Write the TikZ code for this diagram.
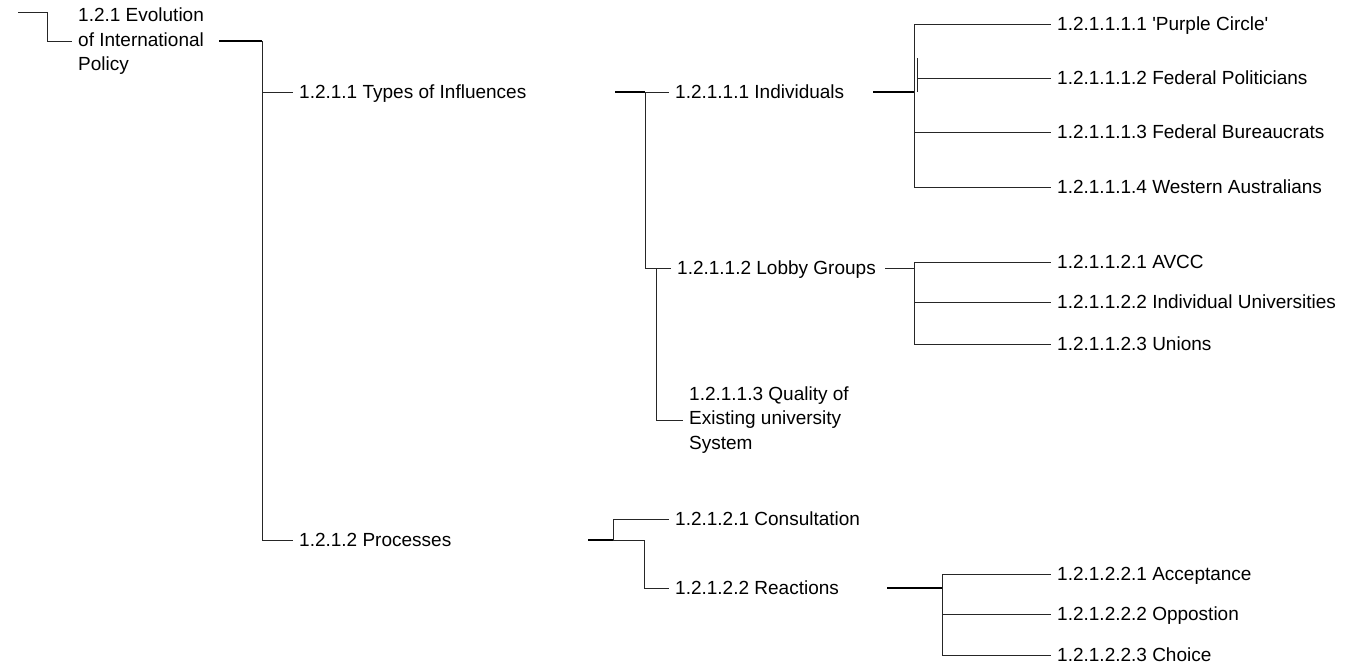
\documentclass[tikz,border=0pt]{standalone}
\usepackage{fontspec}
\setmainfont{Liberation Sans}
\tikzset{
  item/.style={anchor=west, inner xsep=6pt, inner ysep=0pt, text height=13.6pt, text depth=0pt,
    font=\fontsize{19}{24.5}\selectfont},
  multi/.style={anchor=west, inner xsep=6pt, inner ysep=0pt, align=left,
    font=\fontsize{19}{24.5}\selectfont},
  link/.style={line width=0.8pt, black!85},
  stub/.style={line width=1.6pt, black},
}
\begin{document}
\begin{tikzpicture}[x=1pt,y=-1pt]
\useasboundingbox (0,0) rectangle (1349,664);

% --- outline entries ---
\node[multi] (root) at (72,41.5) {1.2.1 Evolution\\of International\\Policy};
\node[item] (types) at (293,92) {1.2.1.1 Types of Influences};
\node[item] (proc) at (293,540) {1.2.1.2 Processes};

\node[item] (indiv) at (669,92) {1.2.1.1.1 Individuals};
\node[item] (lobby) at (671,268) {1.2.1.1.2 Lobby Groups};
\node[multi] (qual) at (683,420) {1.2.1.1.3 Quality of\\Existing university\\System};

\node[item] (i1) at (1051,24) {1.2.1.1.1.1 \textquotesingle Purple Circle\textquotesingle};
\node[item] (i2) at (1051,78) {1.2.1.1.1.2 Federal Politicians};
\node[item] (i3) at (1051,132) {1.2.1.1.1.3 Federal Bureaucrats};
\node[item] (i4) at (1051,187) {1.2.1.1.1.4 Western Australians};

\node[item] (l1) at (1051,262) {1.2.1.1.2.1 AVCC};
\node[item] (l2) at (1051,302) {1.2.1.1.2.2 Individual Universities};
\node[item] (l3) at (1051,344) {1.2.1.1.2.3 Unions};

\node[item] (cons) at (669,519) {1.2.1.2.1 Consultation};
\node[item] (react) at (669,588) {1.2.1.2.2 Reactions};

\node[item] (a1) at (1051,574) {1.2.1.2.2.1 Acceptance};
\node[item] (a2) at (1051,614) {1.2.1.2.2.2 Oppostion};
\node[item] (a3) at (1051,655) {1.2.1.2.2.3 Choice};

% --- junction points ---
\coordinate (in0) at (18,12);
\coordinate (in1) at (47,12);
\coordinate (r0) at (219,41);
\coordinate (rj) at (262,41);
\coordinate (t0) at (615,92);
\coordinate (tj) at (645,92);
\coordinate (lj) at (656,268);
\coordinate (d0) at (873,92);
\coordinate (dj) at (914,92);
\coordinate (dk) at (917,58);
\coordinate (dk2) at (917,92);
\coordinate (b0) at (885,268);
\coordinate (bj) at (914,268);
\coordinate (p0) at (588,540);
\coordinate (pj) at (613,540);
\coordinate (pk) at (644,540);
\coordinate (e0) at (887,588);
\coordinate (ej) at (942,588);

% --- connectors ---
\draw[link] (in0) -- (in1) |- (root.west);

\draw[stub] (r0) -- (rj);
\draw[link] (rj) |- (types.west);
\draw[link] (rj) |- (proc.west);

\draw[stub] (t0) -- (tj);
\draw[link] (tj) -- (indiv.west);
\draw[link] (tj) |- (lobby.west);
\draw[link] (lj) |- (qual.west);

\draw[stub] (d0) -- (dj);
\draw[link] (dj) |- (i1.west);
\draw[link] (dj) |- (i3.west);
\draw[link] (dj) |- (i4.west);
\draw[link] (dk) -- (dk2);
\draw[link] (dk |- i2.west) -- (i2.west);

\draw[link] (b0) -- (bj);
\draw[link] (bj) |- (l1.west);
\draw[link] (bj) |- (l2.west);
\draw[link] (bj) |- (l3.west);

\draw[stub] (p0) -- (pj);
\draw[link] (pj) |- (cons.west);
\draw[link] (pj) -- (pk) |- (react.west);

\draw[stub] (e0) -- (ej);
\draw[link] (ej) |- (a1.west);
\draw[link] (ej) |- (a2.west);
\draw[link] (ej) |- (a3.west);
\end{tikzpicture}
\end{document}
